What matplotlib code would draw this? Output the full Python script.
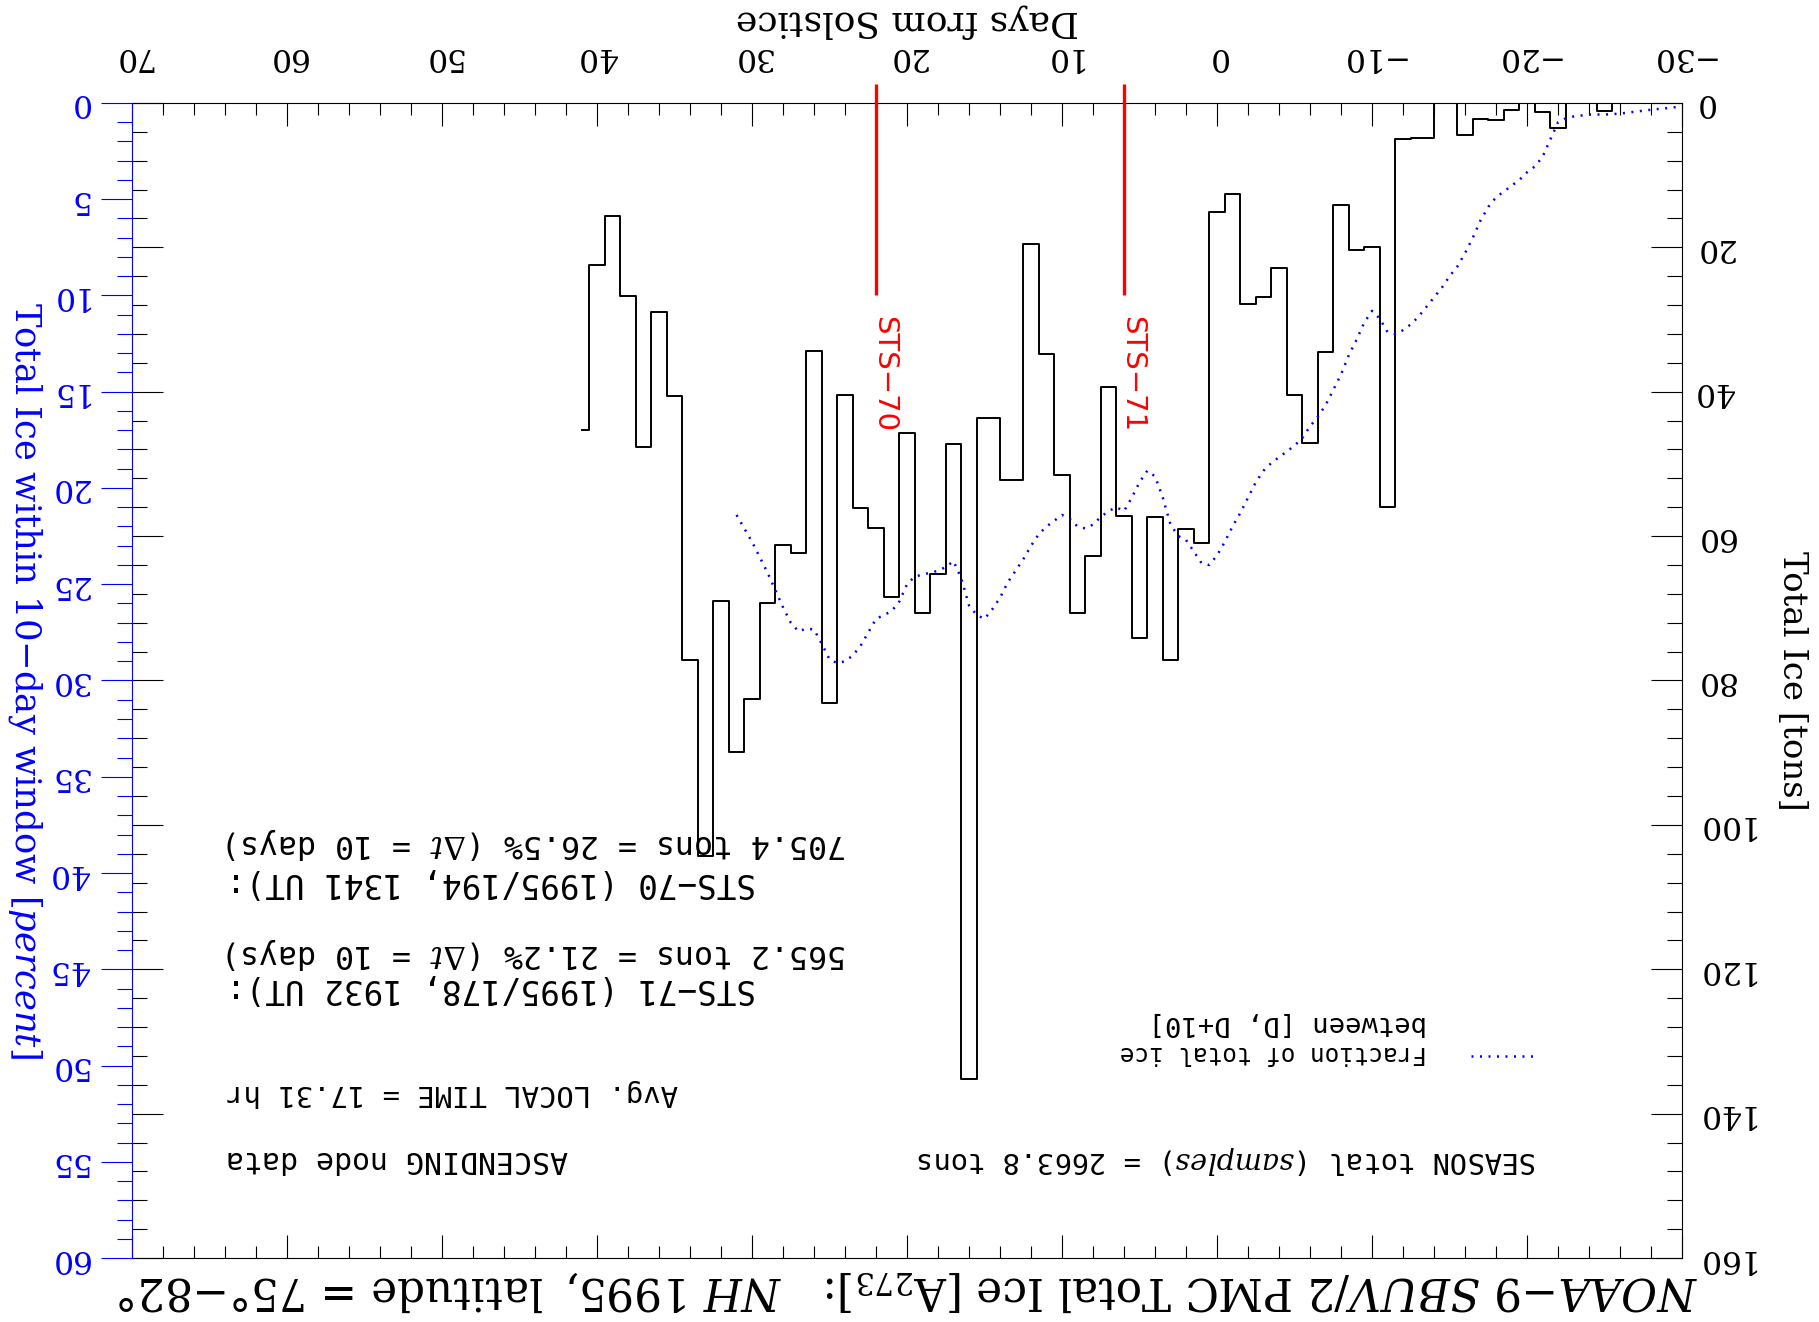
import matplotlib
matplotlib.use("Agg")
import matplotlib.pyplot as plt
from matplotlib.ticker import MultipleLocator

plt.rcParams['font.family'] = ['DejaVu Serif']
plt.rcParams['mathtext.fontset'] = 'dejavuserif'

# daily total ice (tons); no data on day 14 and day -14
days = [41, 40, 39, 38, 37, 36, 35, 34, 33, 32, 31, 30, 29, 28, 27, 26, 25, 24, 23, 22,
        21, 20, 19, 18, 17, 16, 15, 13, 12, 11, 10, 9, 8, 7, 6, 5, 4, 3, 2, 1,
        0, -1, -2, -3, -4, -5, -6, -7, -8, -9, -10, -11, -12, -13, -15, -16, -17, -18,
        -19, -20, -21, -22, -23, -24, -25, -26, -27, -28, -29, -30]
tons = [45.3, 22.4, 15.7, 26.8, 47.6, 29.0, 40.6, 77.1, 104.3, 69.0, 89.9, 82.5, 69.2,
        61.2, 62.4, 34.4, 83.1, 40.4, 56.1, 58.9, 68.5, 45.7, 70.6, 65.2, 47.2, 135.2,
        43.6, 52.2, 19.5, 34.8, 51.6, 70.6, 62.8, 39.3, 57.2, 74.1, 57.3, 77.1, 59.0,
        60.9, 15.1, 12.6, 27.8, 26.9, 22.9, 40.5, 47.1, 34.5, 14.1, 20.3, 19.9, 56.0,
        5.0, 4.8, 0.0, 4.4, 2.2, 2.35, 1.0, 0.0, 1.3, 3.5, 0.0, 0.0, 1.1, 0.0, 0.0,
        0.0, 0.0, 0.0]

# fraction of total ice between [D, D+10] (percent)
frac_days = [31, 30.5, 30, 29.5, 29, 28.5, 28, 27.5, 27, 26.5, 26, 25.5, 25, 24.5, 24,
             23.5, 23, 22.5, 22, 21.5, 21, 20.5, 20, 19.5, 19, 18.5, 18, 17.5, 17, 16.5,
             16, 15.5, 15, 14.5, 14, 13.5, 13, 12.5, 12, 11.5, 11, 10.5, 10, 9.5, 9, 8.5,
             8, 7.5, 7, 6.5, 6, 5.5, 5, 4.5, 4, 3.5, 3, 2.5, 2, 1.5, 1, 0.5, 0, -0.5, -1,
             -1.5, -2, -2.5, -3, -3.5, -4, -4.5, -5, -5.5, -6, -6.5, -7, -7.5, -8, -8.5,
             -9, -9.5, -10, -10.5, -11, -11.5, -12, -12.5, -13, -13.5, -14, -14.5, -15,
             -15.5, -16, -16.5, -17, -17.5, -18, -18.5, -19, -19.5, -20, -20.5, -21,
             -21.5, -22, -22.5, -23, -24, -25, -26, -27, -28, -29, -30]
frac_pct = [21.4, 22.1, 22.8, 23.6, 24.4, 25.3, 26.2, 27.0, 27.45, 27.3, 27.35, 28.1,
            28.9, 29.1, 29.0, 28.7, 28.2, 27.5, 26.8, 26.6, 26.4, 25.9, 25.0, 24.6, 24.5,
            24.4, 24.3, 24.1, 23.8, 24.7, 26.1, 26.6, 26.8, 26.3, 25.7, 24.9, 24.3, 23.7,
            23.0, 22.4, 22.0, 21.7, 21.4, 21.6, 22.0, 22.1, 21.9, 21.5, 21.2, 21.0, 21.2,
            20.5, 19.7, 19.1, 19.4, 20.5, 21.9, 22.5, 22.7, 23.3, 23.9, 24.0, 23.5, 22.8,
            22.0, 21.3, 20.5, 19.7, 19.1, 18.7, 18.4, 18.1, 17.8, 17.4, 16.8, 16.3, 15.7,
            14.9, 14.1, 13.1, 12.3, 11.4, 10.8, 11.2, 11.9, 12.0, 11.8, 11.5, 11.1, 10.6,
            10.1, 9.6, 9.0, 8.5, 7.8, 7.0, 6.1, 5.4, 4.9, 4.6, 4.3, 4.0, 3.6, 3.3, 2.8,
            1.9, 1.0, 0.8, 0.7, 0.6, 0.6, 0.55, 0.45, 0.35, 0.27, 0.18]

shuttle_days = [22, 6]
shuttle_names = ['STS\u221270', 'STS\u221271']

blue = '#0000ff'

fig = plt.figure(figsize=(18.19, 13.22), dpi=100)
ax = fig.add_axes([0.0726, 0.0484, 0.8521, 0.8737])
ax2 = ax.twinx()

# tons axis (black), labels on the right
ax.step(days, tons, where='mid', color='black', lw=1.4)
ax.set_xlim(70, -30)
ax.set_ylim(160, 0)
ax.xaxis.set_major_locator(MultipleLocator(10))
ax.xaxis.set_minor_locator(MultipleLocator(2))
ax.yaxis.set_major_locator(MultipleLocator(20))
ax.yaxis.set_minor_locator(MultipleLocator(4))
ax.tick_params(axis='x', which='both', direction='in', top=True, bottom=True,
               labeltop=True, labelbottom=False, labelrotation=180, width=0.8)
ax.tick_params(axis='x', which='major', length=16.5, pad=22, labelsize=22.5)
ax.tick_params(axis='x', which='minor', length=8.3)
ax.tick_params(axis='y', which='both', direction='in', left=True, right=True,
               labelleft=False, labelright=True, labelrotation=180, width=0.8)
ax.tick_params(axis='y', which='major', length=22.3, pad=9, labelsize=22.5)
ax.tick_params(axis='y', which='minor', length=11)
for lbl in ax.get_yticklabels():
    lbl.set_va('center')
for s in ['top', 'bottom', 'right']:
    ax.spines[s].set_linewidth(0.8)
ax.spines['left'].set_visible(False)

ax.set_xlabel('Days from Solstice', rotation=180, fontsize=26)
ax.xaxis.set_label_position('top')
ax.xaxis.set_label_coords(0.5, 1.071)
ax.xaxis.label.set_va('center')
ax.set_ylabel('Total Ice [tons]', rotation=270, fontsize=24.5)
ax.yaxis.set_label_position('right')
ax.yaxis.set_label_coords(1.071, 0.5)
ax.yaxis.label.set_va('center')

# percent axis (blue), on the left
ax2.plot(frac_days, frac_pct, color=blue, lw=1.8, linestyle=(0, (0.8, 2.6)))
ax2.vlines(shuttle_days, -1.0, 10.0, colors='red', lw=2.4, clip_on=False)
for d, name in zip(shuttle_days, shuttle_names):
    ax2.text(d + 0.4, 11.05, name, rotation=270, ha='left', va='top', color='red',
             fontsize=21, family='DejaVu Sans')
ax2.set_ylim(60, 0)
ax2.yaxis.set_major_locator(MultipleLocator(5))
ax2.yaxis.set_minor_locator(MultipleLocator(1))
ax2.yaxis.tick_left()
ax2.yaxis.set_label_position('left')
ax2.tick_params(axis='y', which='both', direction='out', colors=blue, left=True,
                right=False, labelleft=True, labelright=False, labelrotation=180,
                width=0.8)
ax2.tick_params(axis='y', which='major', length=22.3, pad=9, labelsize=22.5)
ax2.tick_params(axis='y', which='minor', length=11)
for lbl in ax2.get_yticklabels():
    lbl.set_va('center')
for s in ['top', 'bottom', 'right']:
    ax2.spines[s].set_visible(False)
ax2.spines['left'].set_color(blue)
ax2.spines['left'].set_linewidth(0.8)
ax2.set_ylabel(r'Total Ice within 10$-$day window [$\it{percent}$]', rotation=270,
               color=blue, fontsize=25.5)
ax2.yaxis.set_label_coords(-0.069, 0.5)
ax2.yaxis.label.set_va('center')

# annotations (upside-down, like the rest of the plot)
mono = dict(transform=ax.transAxes, rotation=180, va='center', family='DejaVu Sans Mono',
            math_fontfamily='dejavuserif', color='black')
ax.text(0.0606, 0.359, r'705.4 tons = 26.5% ($\Delta t$ = 10 days)', ha='left',
        fontsize=22.8, **mono)
ax.text(0.0606, 0.3255, 'STS\u221270 (1995/194, 1341 UT):', ha='left', fontsize=23.5, **mono)
ax.text(0.0606, 0.264, r'565.2 tons = 21.2% ($\Delta t$ = 10 days)', ha='left',
        fontsize=22.8, **mono)
ax.text(0.0606, 0.233, 'STS\u221271 (1995/178, 1932 UT):', ha='left', fontsize=23.5, **mono)
ax.text(0.0606, 0.143, 'Avg. LOCAL TIME = 17.31 hr', ha='left', fontsize=20.8, **mono)
ax.text(0.0606, 0.085, 'ASCENDING node data', ha='left', fontsize=21.5, **mono)
ax.text(0.9065, 0.085, r'SEASON total ($\it{samples}$) = 2663.8 tons', ha='right',
        fontsize=20.7, **mono)
ax.text(0.8355, 0.2035, 'between [D, D+10]', ha='right', fontsize=19.5, **mono)
ax.text(0.8355, 0.1775, 'Fraction of total ice', ha='right', fontsize=17.5, **mono)
ax.plot([0.864, 0.9065], [0.175, 0.175], transform=ax.transAxes, color=blue, lw=1.8,
        linestyle=(0, (0.8, 2.6)))

fig.text(0.4987, 0.024,
         r'$\it{NOAA{-}9\ SBUV/2}$ PMC Total Ice [A$_{273}$]:   $\it{NH\ 1995,}$ latitude = 75°$-$82°',
         rotation=180, ha='center', va='center', fontsize=31.5, family='DejaVu Serif',
         math_fontfamily='dejavuserif')

fig.savefig('out.png', dpi=100)
